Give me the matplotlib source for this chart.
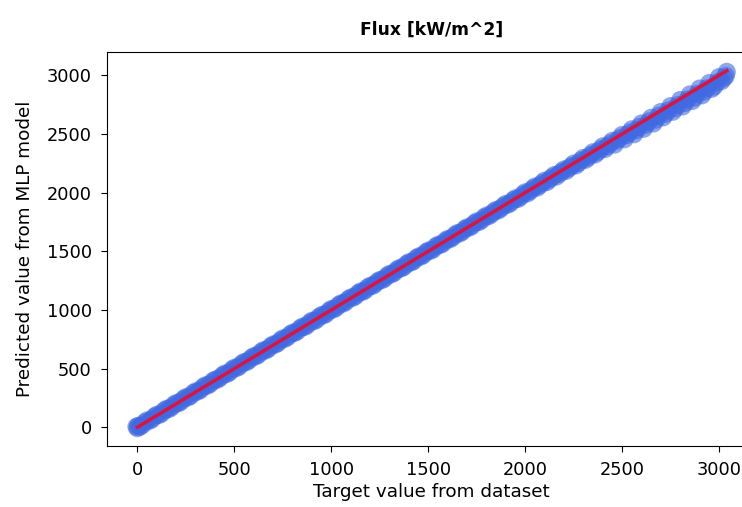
import matplotlib
matplotlib.use("Agg")
import matplotlib.pyplot as plt

# valores (objetivo vs prediccion)
objetivo = [-5, 0, 5, 25, 50, 75, 100, 125, 150, 175, 200,
            225, 250, 275, 300, 325, 350, 375, 400, 425, 450,
            475, 500, 525, 550, 575, 600, 625, 650, 675, 700,
            725, 750, 775, 800, 825, 850, 875, 900, 925, 950,
            975, 1000, 1025, 1050, 1075, 1100, 1125, 1150, 1175, 1200,
            1225, 1250, 1275, 1300, 1325, 1350, 1375, 1400, 1425, 1450,
            1475, 1500, 1525, 1550, 1575, 1600, 1625, 1650, 1675, 1700,
            1725, 1750, 1775, 1800, 1825, 1850, 1875, 1900, 1925, 1950,
            1975, 2000, 2025, 2050, 2075, 2100, 2125, 2150, 2175, 2200,
            2225, 2250, 2275, 2300, 2325, 2350, 2375, 2400, 2425, 2450,
            2475, 2500, 2525, 2550, 2575, 2600, 2625, 2650, 2675, 2700,
            2725, 2750, 2775, 2800, 2825, 2850, 2875, 2900, 2925, 2950,
            2975, 3000, 3025, 3040]

prediccion = [5, -8, 12, 18, 58, 68, 106, 118, 157, 170, 206,
              219, 256, 268, 306, 318, 357, 369, 406, 420, 457,
              468, 507, 518, 556, 570, 606, 619, 657, 668, 706,
              718, 757, 769, 806, 818, 857, 868, 908, 918, 957,
              968, 1008, 1018, 1056, 1069, 1106, 1118, 1157, 1168, 1206,
              1219, 1255, 1268, 1306, 1318, 1356, 1368, 1407, 1417, 1456,
              1468, 1506, 1516, 1555, 1566, 1605, 1617, 1655, 1666, 1704,
              1716, 1755, 1765, 1804, 1815, 1853, 1866, 1904, 1913, 1952,
              1962, 2003, 2012, 2052, 2062, 2102, 2112, 2150, 2160, 2198,
              2208, 2248, 2252, 2296, 2300, 2345, 2348, 2395, 2396, 2442,
              2445, 2492, 2490, 2540, 2532, 2590, 2580, 2638, 2622, 2688,
              2672, 2738, 2720, 2790, 2765, 2838, 2810, 2888, 2862, 2935,
              2905, 2985, 2975, 3030]

# segunda tanda de puntos intermedios
objetivo2 = [12, 38, 62, 88, 112, 138, 162, 188, 212, 238,
             262, 288, 312, 338, 362, 388, 412, 438, 462, 488,
             512, 538, 562, 588, 612, 638, 662, 688, 712, 738,
             762, 788, 812, 838, 862, 888, 912, 938, 962, 988,
             1012, 1038, 1062, 1088, 1112, 1138, 1162, 1188, 1212, 1238,
             1262, 1288, 1312, 1338, 1362, 1388, 1412, 1438, 1462, 1488,
             1512, 1538, 1562, 1588, 1612, 1638, 1662, 1688, 1712, 1738,
             1762, 1788, 1812, 1838, 1862, 1888, 1912, 1938, 1962, 1988,
             2012, 2038, 2062, 2088, 2112, 2138, 2162, 2188, 2212, 2238,
             2262, 2288, 2312, 2338, 2362, 2388, 2412, 2438, 2462, 2488,
             2512, 2538, 2562, 2588, 2612, 2638, 2662, 2688, 2712, 2738,
             2762, 2788, 2812, 2838, 2862, 2888, 2912, 2938, 2962, 2988,
             3012, 3035]

prediccion2 = [4, 42, 55, 92, 105, 142, 155, 192, 205, 242,
               255, 292, 305, 342, 355, 392, 405, 442, 455, 492,
               505, 542, 555, 592, 605, 642, 655, 692, 705, 742,
               755, 792, 805, 842, 855, 892, 905, 942, 955, 992,
               1005, 1042, 1055, 1092, 1105, 1142, 1155, 1192, 1205, 1242,
               1255, 1292, 1305, 1342, 1355, 1392, 1405, 1442, 1455, 1492,
               1505, 1541, 1554, 1590, 1603, 1640, 1652, 1690, 1702, 1739,
               1750, 1789, 1800, 1838, 1848, 1887, 1898, 1936, 1946, 1985,
               1994, 2034, 2043, 2082, 2090, 2130, 2138, 2178, 2186, 2226,
               2232, 2275, 2280, 2322, 2326, 2370, 2372, 2418, 2410, 2465,
               2455, 2512, 2498, 2560, 2545, 2608, 2590, 2655, 2642, 2700,
               2690, 2748, 2735, 2795, 2782, 2842, 2830, 2890, 2885, 2938,
               2950, 2995]

# recta ideal y = x
recta = [0, 3040]

fig = plt.figure(figsize=(7.42, 5.07), dpi=100)
ax = fig.add_axes([0.1442, 0.1203, 0.875, 0.778])

ax.scatter(objetivo, prediccion, s=170, color='royalblue', alpha=0.6, edgecolors='none')
ax.scatter(objetivo2, prediccion2, s=170, color='royalblue', alpha=0.6, edgecolors='none')
ax.plot(recta, recta, color='crimson', linewidth=2.5)
ax.set_xlim(-157, 3192)
ax.set_ylim(-160, 3203)

ax.set_title('Flux [kW/m^2]', fontsize=12.3, fontweight='bold', pad=12)
ax.set_xlabel('Target value from dataset', fontsize=13.2, labelpad=3)
ax.set_ylabel('Predicted value from MLP model', fontsize=13.2, labelpad=9)
ax.tick_params(labelsize=12.8, length=4.5, pad=6.5)

fig.savefig('out.png', dpi=100)
